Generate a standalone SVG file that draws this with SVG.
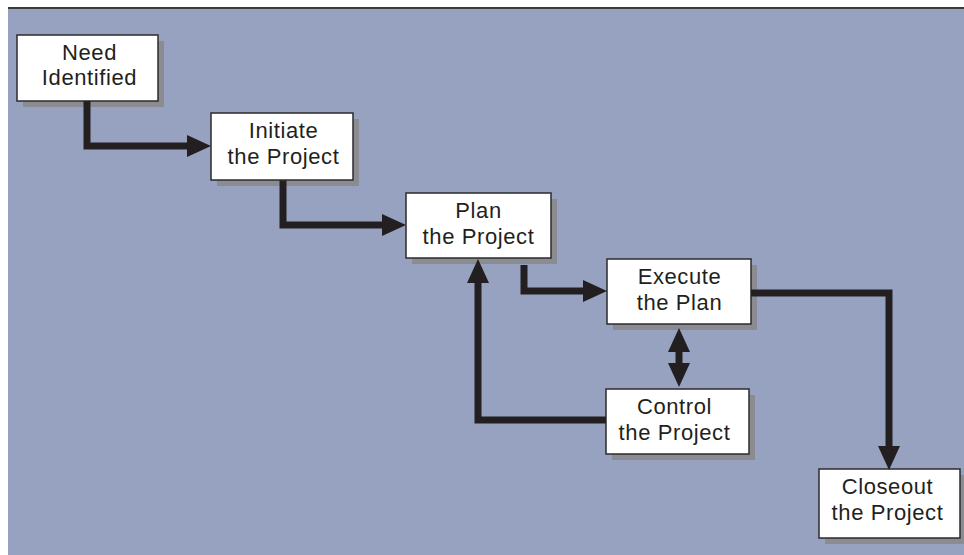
<svg xmlns="http://www.w3.org/2000/svg" width="964" height="555" viewBox="0 0 964 555">
  <style>
    .shadow { fill: #8a8c92; }
    .box { fill: #ffffff; stroke: #2b2b2b; stroke-width: 1.5; }
    .label { font-family: "Liberation Sans", Arial, sans-serif; font-size: 22px; letter-spacing: 0.6px; fill: #231f20; text-anchor: middle; }
    .conn { fill: none; stroke: #231f20; stroke-width: 7; stroke-linejoin: miter; stroke-linecap: butt; }
  </style>
  <defs>
    <marker id="arrow" markerUnits="userSpaceOnUse" viewBox="0 0 24 24" refX="0" refY="12" markerWidth="24" markerHeight="24" orient="auto-start-reverse">
      <path d="M0,1 L24,12 L0,23 Z" fill="#231f20"/>
    </marker>
  </defs>
  <rect x="0" y="0" width="964" height="555" fill="#ffffff"/>
  <rect x="8" y="9" width="956" height="546" fill="#97a2c0"/>
  <rect x="8" y="7" width="956" height="2" fill="#3a3a3a"/>

  <g id="need-identified">
    <rect class="shadow" x="23" y="41" width="141" height="66"/>
    <rect class="box" x="17" y="35" width="141" height="66"/>
    <text class="label" x="89.5" y="59.5">Need</text>
    <text class="label" x="89.5" y="85">Identified</text>
  </g>
  <g id="initiate">
    <rect class="shadow" x="217" y="119" width="142" height="67"/>
    <rect class="box" x="211" y="113" width="142" height="67"/>
    <text class="label" x="283.5" y="138">Initiate</text>
    <text class="label" x="283.5" y="164">the Project</text>
  </g>
  <g id="plan">
    <rect class="shadow" x="412" y="199" width="145" height="65"/>
    <rect class="box" x="406" y="193" width="145" height="65"/>
    <text class="label" x="478.5" y="218">Plan</text>
    <text class="label" x="478.5" y="244">the Project</text>
  </g>
  <g id="execute">
    <rect class="shadow" x="613" y="265" width="144" height="65"/>
    <rect class="box" x="607" y="259" width="144" height="65"/>
    <text class="label" x="679.5" y="284">Execute</text>
    <text class="label" x="679.5" y="310">the Plan</text>
  </g>
  <g id="control">
    <rect class="shadow" x="612" y="395" width="143" height="65"/>
    <rect class="box" x="606" y="389" width="143" height="65"/>
    <text class="label" x="674.5" y="414">Control</text>
    <text class="label" x="674.5" y="440">the Project</text>
  </g>
  <g id="closeout">
    <rect class="shadow" x="825" y="475" width="141" height="69"/>
    <rect class="box" x="819" y="469" width="141" height="69"/>
    <text class="label" x="887.5" y="494">Closeout</text>
    <text class="label" x="887.5" y="520">the Project</text>
  </g>

  <g id="connectors">
    <path class="conn" d="M87,101 V146 H187" marker-end="url(#arrow)"/>
    <path class="conn" d="M283,180.5 V225 H382" marker-end="url(#arrow)"/>
    <path class="conn" d="M524,265 V291 H583" marker-end="url(#arrow)"/>
    <path class="conn" d="M606,420 H478 V283" marker-end="url(#arrow)"/>
    <path class="conn" d="M679,352 V363" marker-start="url(#arrow)" marker-end="url(#arrow)"/>
    <path class="conn" d="M751,293 H889 V446" marker-end="url(#arrow)"/>
  </g>
</svg>
